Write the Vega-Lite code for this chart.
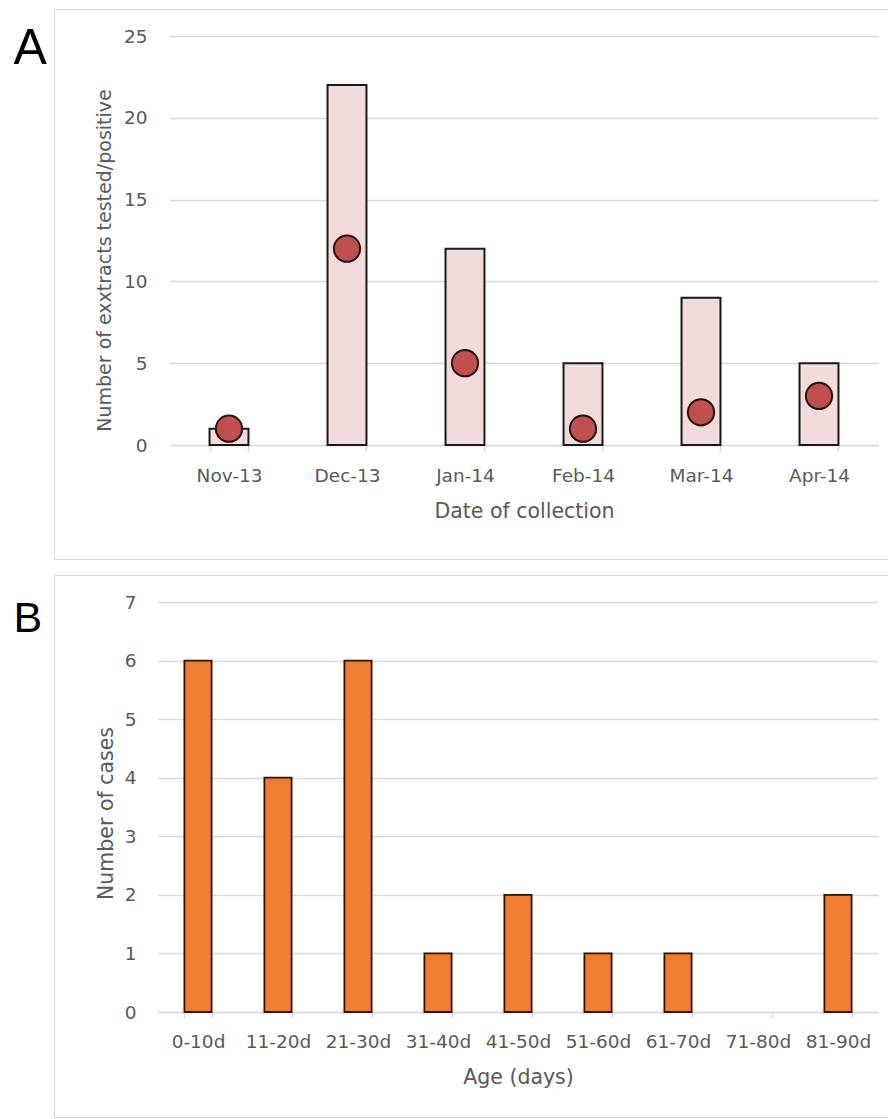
{
  "$schema": "https://vega.github.io/schema/vega-lite/v6.json",
  "background": "white",
  "padding": {"left": 12, "top": 8, "right": 0, "bottom": 0},
  "spacing": 14,
  "config": {
    "view": {"stroke": "#d9d9d9", "strokeWidth": 1},
    "font": "DejaVu Sans",
    "axis": {
      "labelFont": "DejaVu Sans",
      "titleFont": "DejaVu Sans",
      "labelColor": "#595959",
      "titleColor": "#595959",
      "labelFontSize": 18.5,
      "titleFontSize": 20.5,
      "titleFontWeight": "normal",
      "gridColor": "#d9d9d9",
      "gridWidth": 1.5,
      "domainColor": "#d9d9d9",
      "domainWidth": 1.5,
      "tickColor": "#d9d9d9",
      "tickWidth": 1.5
    }
  },
  "vconcat": [
    {
      "width": 834,
      "height": 550,
      "data": {"values": [
        {"month": "Nov-13", "tested": 1, "positive": 1},
        {"month": "Dec-13", "tested": 22, "positive": 12},
        {"month": "Jan-14", "tested": 12, "positive": 5},
        {"month": "Feb-14", "tested": 5, "positive": 1},
        {"month": "Mar-14", "tested": 9, "positive": 2},
        {"month": "Apr-14", "tested": 5, "positive": 3}
      ]},
      "encoding": {
        "x": {"field": "month", "type": "nominal", "sort": null,
          "scale": {"range": [116, 824], "paddingInner": 0.67, "paddingOuter": 0.335},
          "axis": {"title": "Date of collection", "offset": -114, "tickBand": "extent", "tickSize": 6, "labelPadding": 15, "titlePadding": 17, "labelAngle": 0}}
      },
      "layer": [
        {
          "mark": {"type": "bar", "fill": "#f2dcdb", "stroke": "#1a1a1a", "strokeWidth": 2},
          "encoding": {
            "y": {"field": "tested", "type": "quantitative",
              "scale": {"domain": [0, 25], "range": [436, 27], "nice": false},
              "axis": {"title": "Number of exxtracts tested/positive", "titleFontSize": 19, "titleY": 251, "values": [0, 5, 10, 15, 20, 25], "grid": true, "domain": false, "ticks": false, "offset": -116, "labelPadding": 23, "titlePadding": 9}}
          }
        },
        {
          "mark": {"type": "point", "shape": "circle", "filled": true, "fill": "#c0504d", "stroke": "#2a1010", "strokeWidth": 2, "size": 690, "opacity": 1},
          "encoding": {
            "y": {"field": "positive", "type": "quantitative",
              "scale": {"domain": [0, 25], "range": [436, 27], "nice": false},
              "axis": {"orient": "right", "labels": false, "ticks": false, "domain": false, "grid": false, "title": "A", "titleX": -875, "titleY": 54, "titleAngle": 0, "titleAlign": "left", "titleBaseline": "alphabetic", "titleFontSize": 50, "titleFont": "Liberation Sans", "titleColor": "#000000", "titlePadding": 0}}
          }
        }
      ],
      "resolve": {"axis": {"y": "independent"}}
    },
    {
      "width": 834,
      "height": 542,
      "data": {"values": [
        {"age": "0-10d", "cases": 6},
        {"age": "11-20d", "cases": 4},
        {"age": "21-30d", "cases": 6},
        {"age": "31-40d", "cases": 1},
        {"age": "41-50d", "cases": 2},
        {"age": "51-60d", "cases": 1},
        {"age": "61-70d", "cases": 1},
        {"age": "71-80d", "cases": 0},
        {"age": "81-90d", "cases": 2}
      ]},
      "encoding": {
        "x": {"field": "age", "type": "nominal", "sort": null,
          "scale": {"range": [104, 824], "paddingInner": 0.66, "paddingOuter": 0.33},
          "axis": {"title": "Age (days)", "offset": -105, "tickBand": "extent", "tickSize": 6, "labelPadding": 14, "titlePadding": 17, "labelAngle": 0}}
      },
      "layer": [
        {
          "mark": {"type": "bar", "fill": "#ed7d31", "stroke": "#2b1608"},
          "encoding": {
            "y": {"field": "cases", "type": "quantitative",
              "scale": {"domain": [0, 7], "range": [437, 27], "nice": false},
              "axis": {"title": "Number of cases", "titleY": 238, "values": [0, 1, 2, 3, 4, 5, 6, 7], "grid": true, "domain": false, "ticks": false, "offset": -104, "labelPadding": 22, "titlePadding": 8}},
            "strokeWidth": {"condition": {"test": "datum.cases > 0", "value": 1.8}, "value": 0}
          }
        },
        {
          "mark": {"type": "bar", "opacity": 0},
          "encoding": {
            "y": {"field": "cases", "type": "quantitative",
              "scale": {"domain": [0, 7], "range": [437, 27], "nice": false},
              "axis": {"orient": "right", "labels": false, "ticks": false, "domain": false, "grid": false, "title": "B", "titleX": -875, "titleY": 56, "titleAngle": 0, "titleAlign": "left", "titleBaseline": "alphabetic", "titleFontSize": 43, "titleFont": "Liberation Sans", "titleColor": "#000000", "titlePadding": 0}}
          }
        }
      ],
      "resolve": {"axis": {"y": "independent"}}
    }
  ]
}
